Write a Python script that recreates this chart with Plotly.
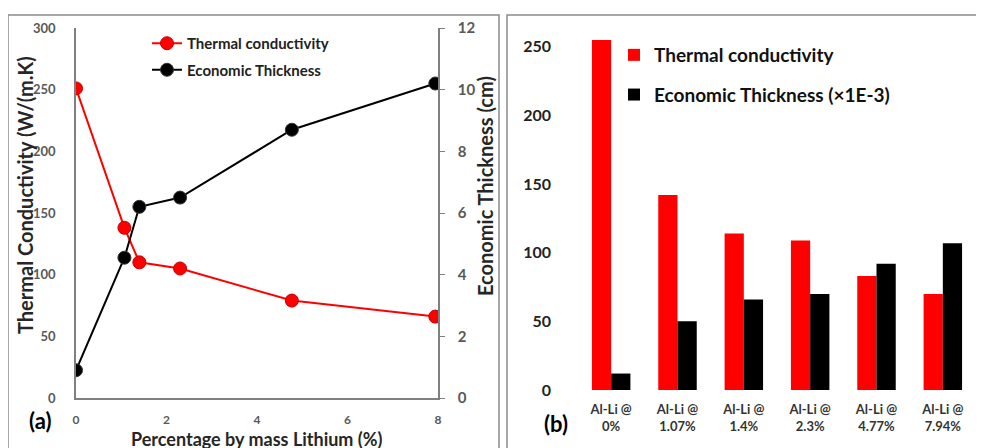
import plotly.graph_objects as go

# ---- data ----
li_pct = [0, 1.07, 1.4, 2.3, 4.77, 7.94]
thermal_k = [251, 138, 110, 105, 79, 66]
econ_thick_cm = [0.9, 4.55, 6.2, 6.5, 8.7, 10.2]

bar_cats = ["Al-Li @<br>0%", "Al-Li @<br>1.07%", "Al-Li @<br>1.4%",
            "Al-Li @<br>2.3%", "Al-Li @<br>4.77%", "Al-Li @<br>7.94%"]
bar_thermal = [255, 142, 114, 109, 83, 70]
bar_econ = [12, 50, 66, 70, 92, 107]

W, H = 984, 448
OFF = 8  # page body margin offset
def px(x):
    return (x - OFF) / W
def py(y):
    return 1 - (y - OFF) / H

FONT = "Lato"
GREY = "#595959"

fig = go.Figure()

# ---- panel (a) ----
fig.add_trace(go.Scatter(
    x=li_pct, y=thermal_k, name="Thermal conductivity",
    mode="lines+markers", line=dict(color="#ff0000", width=2),
    marker=dict(color="#ff0000", size=13, line=dict(color="#c00000", width=1)),
    xaxis="x", yaxis="y", legend="legend", legendgroup="a1"))
fig.add_trace(go.Scatter(
    x=li_pct, y=econ_thick_cm, name="Economic Thickness",
    mode="lines+markers", line=dict(color="#000000", width=2),
    marker=dict(color="#000000", size=13, line=dict(color="#333333", width=1)),
    xaxis="x", yaxis="y2", legend="legend", legendgroup="a2"))

# ---- panel (b) ----
fig.add_trace(go.Bar(
    x=bar_cats, y=bar_thermal, name="Thermal conductivity",
    marker=dict(color="#ff0000", line=dict(width=0)),
    xaxis="x3", yaxis="y3", legend="legend2", legendgroup="b1"))
fig.add_trace(go.Bar(
    x=bar_cats, y=bar_econ, name="Economic Thickness (×1E-3)",
    marker=dict(color="#000000", line=dict(width=0)),
    xaxis="x3", yaxis="y3", legend="legend2", legendgroup="b2"))

axis_line = dict(showline=True, linecolor="#7f7f7f", linewidth=1.5,
                 showgrid=False, zeroline=False, automargin=False)

fig.update_layout(
    width=W, height=H,
    margin=dict(l=0, r=0, t=0, b=0, autoexpand=False),
    paper_bgcolor="white", plot_bgcolor="rgba(0,0,0,0)",
    font=dict(family=FONT, color="#000000"),
    barmode="group", bargap=0.42, bargroupgap=0.0,
    xaxis=dict(domain=[px(76), px(438)], range=[0, 8], dtick=2,
               anchor="y", ticks="", ticklabelstandoff=10,
               tickfont=dict(size=12, color=GREY, weight="bold"),
               **axis_line),
    yaxis=dict(domain=[py(398), py(28)], range=[0, 300], dtick=50,
               anchor="x", ticks="", ticklabelstandoff=16,
               tickfont=dict(size=13, color=GREY, weight="bold"),
               **axis_line),
    yaxis2=dict(domain=[py(398), py(28)], range=[0, 12], dtick=2,
                overlaying="y", side="right", anchor="x",
                ticks="outside", ticklen=5, tickcolor="#7f7f7f",
                ticklabelstandoff=10,
                tickfont=dict(size=15, color=GREY, weight="bold"),
                **axis_line),
    xaxis3=dict(domain=[px(578), px(976)], anchor="y3",
                showline=False, showgrid=False, zeroline=False, automargin=False,
                ticks="", ticklabelstandoff=10,
                tickfont=dict(size=13, color="#333333", weight="bold")),
    yaxis3=dict(domain=[py(390), py(19.4)], range=[0, 270], dtick=50,
                anchor="x3", showline=False, showgrid=False, zeroline=False,
                automargin=False, ticks="", ticklabelstandoff=26,
                tickfont=dict(size=16, color="#222222", weight="bold")),
    legend=dict(x=px(147), y=py(27), xanchor="left", yanchor="top",
                bgcolor="rgba(0,0,0,0)", itemwidth=30, tracegroupgap=4,
                font=dict(size=15, color="#222222", weight="bold")),
    legend2=dict(x=px(614), y=py(36), xanchor="left", yanchor="top",
                 bgcolor="rgba(0,0,0,0)", itemwidth=30, tracegroupgap=12,
                 font=dict(size=19, color="#111111", weight="bold")),
    showlegend=True,
)

# panel borders
fig.add_shape(type="rect", xref="paper", yref="paper",
              x0=px(8), x1=px(499), y0=py(470), y1=py(15),
              line=dict(color="#8c8c8c", width=1.5))
fig.add_shape(type="rect", xref="paper", yref="paper",
              x0=px(507), x1=px(1010), y0=py(470), y1=py(15),
              line=dict(color="#8c8c8c", width=1.5))

# axis titles and panel labels
ann = dict(xref="paper", yref="paper", showarrow=False,
           xanchor="center", yanchor="middle")
fig.add_annotation(text="Thermal Conductivity (W/(m.K)",
                   x=px(25), y=py(195), textangle=-90,
                   font=dict(size=20, color="#262626", weight="bold"), **ann)
fig.add_annotation(text="Economic Thickness (cm)",
                   x=px(485), y=py(186), textangle=-90,
                   font=dict(size=20, color="#262626", weight="bold"), **ann)
fig.add_annotation(text="Percentage by mass Lithium (%)",
                   x=px(257), y=py(439),
                   font=dict(size=18, color="#262626", weight="bold"), **ann)
fig.add_annotation(text="(a)", x=px(40), y=py(420),
                   font=dict(size=22, color="#000000", weight="bold"), **ann)
fig.add_annotation(text="(b)", x=px(556), y=py(423),
                   font=dict(size=22, color="#000000", weight="bold"), **ann)

fig.write_html("out.html")
